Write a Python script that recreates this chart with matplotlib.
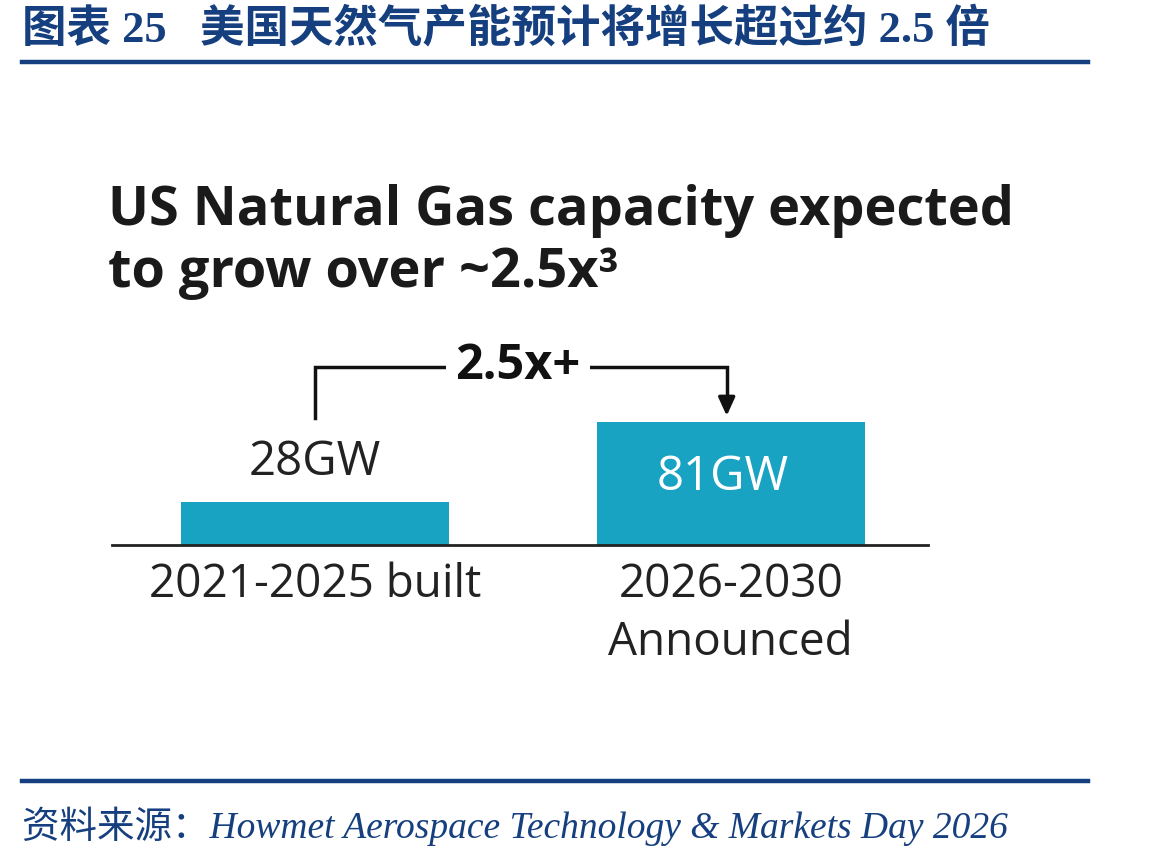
import matplotlib.pyplot as plt
from matplotlib.lines import Line2D

plt.rcParams['font.family'] = ['Open Sans', 'DejaVu Sans']

categories = ['2021-2025 built', '2026-2030\nAnnounced']
values = [28, 81]
value_labels = ['28GW', '81GW']
growth_label = '2.5x+'

header = '图表 25   美国天然气产能预计将增长超过约 2.5 倍'
chart_title = 'US Natural Gas capacity expected\nto grow over ~2.5x³'
source = '资料来源：Howmet Aerospace Technology & Markets Day 2026'

navy = '#153F7E'
teal = '#18A3C3'
W, H = 1149, 857

fig = plt.figure(figsize=(W / 100, H / 100), dpi=100)

# header / footer rules
fig.add_artist(Line2D([22 / W, 1088 / W], [1 - 62 / H] * 2, color=navy, lw=3.2))
fig.add_artist(Line2D([22 / W, 1088 / W], [1 - 781 / H] * 2, color=navy, lw=3.2))

fig.text(22 / W, 1 - 29 / H, header, ha='left', va='center', fontsize=32,
         fontweight='bold', color=navy,
         family=['Liberation Serif', 'Noto Sans CJK SC'])
fig.text(22 / W, 1 - 826 / H, source, ha='left', va='center', fontsize=27,
         style='italic', color=navy,
         family=['Liberation Serif', 'Noto Sans CJK SC'])

fig.text(108 / W, 1 - 242 / H, chart_title, ha='left', va='center',
         fontsize=39, fontweight='bold', color='#1a1a1a', linespacing=1.2)

ax = fig.add_axes([112 / W, 1 - 545 / H, (928 - 112) / W, (545 - 330) / H])
x = list(range(len(values)))
bars = ax.bar(x, values, width=0.645, color=teal)
ax.set_xlim(-0.488, 1.474)
ax.set_ylim(0, 141.5)

for s in ['top', 'right', 'left']:
    ax.spines[s].set_visible(False)
ax.spines['bottom'].set_linewidth(2)
ax.spines['bottom'].set_color('#222222')
ax.set_yticks([])
ax.set_xticks(x)
ax.set_xticklabels(categories, fontsize=33, color='#222222', linespacing=1.35)
ax.tick_params(axis='x', length=0, pad=12)

# value labels
ax.annotate(value_labels[0], (x[0], values[0]), xytext=(0, 12),
            textcoords='offset points', ha='center', va='bottom',
            fontsize=34, color='#222222')
ax.text(x[1] - 0.02, values[1] * 0.55, value_labels[1], ha='center', va='center',
        fontsize=34, color='white')

# growth bracket
top = max(values) * 1.447
ax.plot([x[0], x[0], x[1] - 0.01, x[1] - 0.01],
        [values[0] * 2.99, top, top, values[1] + 14],
        color='#111111', lw=2.5, clip_on=False, solid_joinstyle='miter')
ax.annotate('', xy=(x[1] - 0.01, values[1] + 4), xytext=(x[1] - 0.01, values[1] + 16),
            arrowprops=dict(arrowstyle='-|>,head_length=1.1,head_width=0.5',
                            color='#111111', lw=2.5, shrinkA=0, shrinkB=0),
            annotation_clip=False)
ax.text(0.488, top, growth_label, ha='center', va='center', fontsize=35,
        fontweight='bold', color='#111111', clip_on=False,
        bbox=dict(facecolor='white', edgecolor='none', pad=7))

fig.savefig('out.png', dpi=100)
